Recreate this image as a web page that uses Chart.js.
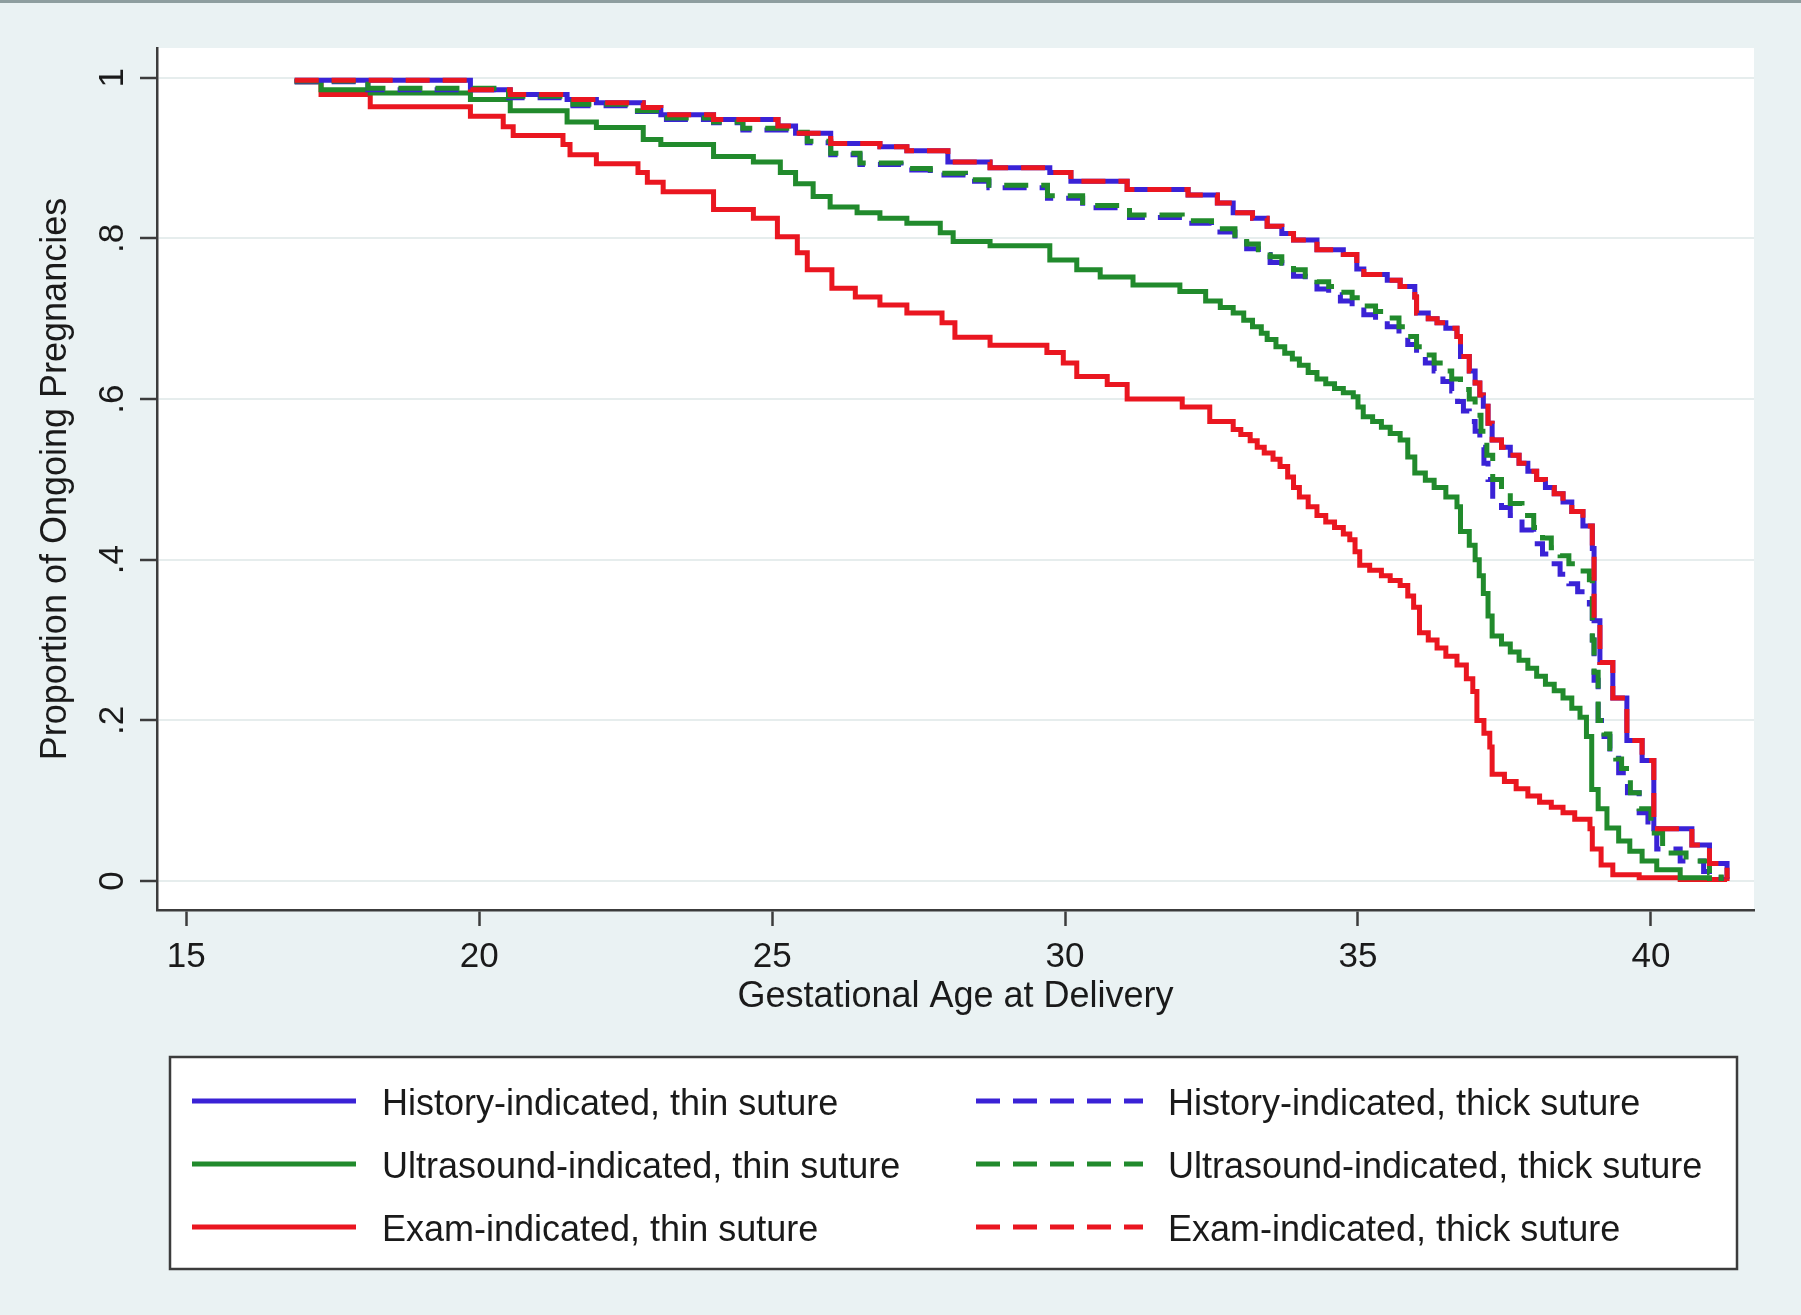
<!DOCTYPE html>
<html>
<head>
<meta charset="utf-8">
<script src="https://cdn.jsdelivr.net/npm/chart.js@4.4.1/dist/chart.umd.min.js"></script>
<style>
  html, body { margin: 0; padding: 0; background: #eaf2f3; }
  canvas { display: block; }
</style>
</head>
<body>
<canvas id="kmChart" width="1801" height="1315"></canvas>
<script>
// ticks
const xTicks = [15, 20, 25, 30, 35, 40];
const yTicks = [0, 0.2, 0.4, 0.6, 0.8, 1];
const yTickLabels = ['0', '.2', '.4', '.6', '.8', '1'];

// series: [gestational age, proportion ongoing]
const histThin = [[16.85,0.997],[19.85,0.985],[20.53,0.979],[21.5,0.973],[22.0,0.969],[22.8,0.963],[23.1,0.954],[24.0,0.948],[25.1,0.94],[25.4,0.931],[26.0,0.918],[26.84,0.914],[27.3,0.909],[28.0,0.895],[28.72,0.888],[29.74,0.882],[30.1,0.871],[31.06,0.861],[32.1,0.854],[32.6,0.844],[32.87,0.832],[33.2,0.825],[33.45,0.815],[33.7,0.806],[33.9,0.798],[34.3,0.786],[34.75,0.78],[34.98,0.762],[35.1,0.755],[35.5,0.748],[35.72,0.74],[35.97,0.727],[36.0,0.707],[36.2,0.7],[36.35,0.695],[36.5,0.688],[36.69,0.678],[36.75,0.653],[36.9,0.635],[37.0,0.62],[37.08,0.605],[37.14,0.591],[37.22,0.57],[37.29,0.549],[37.45,0.54],[37.6,0.53],[37.75,0.52],[37.9,0.51],[38.05,0.5],[38.2,0.49],[38.35,0.482],[38.5,0.472],[38.65,0.46],[38.84,0.442],[39.0,0.414],[39.03,0.324],[39.13,0.272],[39.35,0.228],[39.59,0.175],[39.85,0.15],[40.05,0.065],[40.7,0.045],[41.0,0.022],[41.3,0.003]];
const usThin = [[16.85,0.995],[17.3,0.985],[18.14,0.981],[19.85,0.973],[20.53,0.959],[21.5,0.945],[22.0,0.938],[22.8,0.923],[23.1,0.917],[24.0,0.902],[24.68,0.895],[25.14,0.882],[25.4,0.868],[25.7,0.852],[25.99,0.839],[26.45,0.832],[26.84,0.825],[27.3,0.819],[27.87,0.807],[28.09,0.796],[28.72,0.791],[29.74,0.773],[30.2,0.761],[30.6,0.752],[31.16,0.742],[31.96,0.734],[32.4,0.722],[32.65,0.714],[32.87,0.707],[33.05,0.698],[33.2,0.69],[33.35,0.682],[33.45,0.674],[33.6,0.665],[33.75,0.657],[33.88,0.65],[34.0,0.642],[34.15,0.633],[34.3,0.625],[34.45,0.619],[34.6,0.613],[34.75,0.608],[34.92,0.603],[35.0,0.59],[35.09,0.578],[35.25,0.572],[35.4,0.565],[35.55,0.557],[35.72,0.549],[35.85,0.528],[35.97,0.508],[36.15,0.499],[36.3,0.49],[36.5,0.478],[36.69,0.466],[36.75,0.435],[36.9,0.418],[37.0,0.4],[37.07,0.38],[37.14,0.358],[37.22,0.33],[37.29,0.305],[37.45,0.295],[37.6,0.285],[37.75,0.275],[37.9,0.265],[38.05,0.255],[38.2,0.245],[38.35,0.237],[38.5,0.228],[38.65,0.215],[38.79,0.204],[38.9,0.18],[38.99,0.114],[39.1,0.09],[39.25,0.066],[39.45,0.05],[39.64,0.037],[39.85,0.025],[40.1,0.014],[40.5,0.004],[41.0,0.0]];
const examThin = [[16.85,0.995],[17.3,0.979],[18.14,0.964],[19.85,0.952],[20.41,0.939],[20.58,0.928],[21.43,0.917],[21.55,0.904],[22.0,0.893],[22.71,0.882],[22.87,0.87],[23.14,0.858],[24.0,0.836],[24.68,0.825],[25.09,0.802],[25.43,0.782],[25.6,0.761],[26.02,0.738],[26.42,0.727],[26.84,0.717],[27.3,0.707],[27.9,0.695],[28.12,0.677],[28.72,0.667],[29.69,0.658],[29.97,0.645],[30.2,0.628],[30.72,0.618],[31.06,0.6],[32.0,0.59],[32.47,0.572],[32.87,0.562],[33.0,0.556],[33.16,0.548],[33.28,0.54],[33.4,0.533],[33.55,0.525],[33.67,0.516],[33.8,0.503],[33.9,0.49],[34.0,0.478],[34.15,0.466],[34.3,0.455],[34.45,0.447],[34.6,0.44],[34.75,0.432],[34.86,0.425],[34.95,0.41],[35.03,0.393],[35.2,0.387],[35.4,0.38],[35.55,0.374],[35.72,0.368],[35.85,0.355],[35.95,0.341],[36.05,0.309],[36.2,0.3],[36.35,0.29],[36.5,0.28],[36.69,0.269],[36.85,0.252],[36.96,0.236],[37.03,0.2],[37.15,0.184],[37.25,0.167],[37.29,0.133],[37.5,0.124],[37.7,0.115],[37.9,0.106],[38.1,0.098],[38.3,0.092],[38.5,0.085],[38.7,0.077],[38.96,0.065],[39.0,0.04],[39.15,0.02],[39.35,0.008],[39.8,0.004],[40.5,0.002],[41.3,0.0]];
const histThick = [[16.85,0.995],[18.1,0.985],[20.5,0.975],[21.6,0.965],[22.6,0.958],[23.1,0.948],[24.0,0.944],[24.5,0.935],[25.3,0.931],[25.6,0.919],[26.0,0.904],[26.5,0.892],[27.2,0.885],[27.7,0.879],[28.3,0.871],[28.7,0.863],[29.7,0.85],[30.3,0.838],[31.1,0.826],[32.0,0.819],[32.5,0.808],[32.9,0.795],[33.1,0.787],[33.3,0.78],[33.5,0.77],[33.7,0.762],[33.9,0.753],[34.1,0.745],[34.3,0.737],[34.5,0.73],[34.7,0.722],[34.9,0.715],[35.1,0.705],[35.3,0.698],[35.5,0.69],[35.7,0.68],[35.85,0.668],[36.0,0.655],[36.15,0.645],[36.3,0.635],[36.45,0.622],[36.6,0.61],[36.7,0.597],[36.8,0.585],[36.9,0.572],[37.0,0.56],[37.08,0.54],[37.15,0.52],[37.22,0.5],[37.3,0.475],[37.45,0.465],[37.6,0.455],[37.8,0.437],[38.0,0.42],[38.15,0.407],[38.3,0.395],[38.45,0.382],[38.6,0.37],[38.75,0.36],[38.95,0.345],[39.0,0.3],[39.03,0.25],[39.1,0.2],[39.2,0.18],[39.3,0.16],[39.45,0.135],[39.6,0.11],[39.8,0.085],[39.95,0.065],[40.1,0.04],[40.5,0.025],[40.9,0.012],[41.2,0.0]];
const usThick = [[16.85,0.996],[18.1,0.987],[20.5,0.977],[21.6,0.967],[22.6,0.959],[23.1,0.95],[24.0,0.945],[24.5,0.937],[25.3,0.932],[25.6,0.921],[26.0,0.906],[26.5,0.894],[27.2,0.887],[27.7,0.881],[28.3,0.873],[28.7,0.866],[29.7,0.853],[30.3,0.841],[31.1,0.829],[32.0,0.822],[32.5,0.812],[32.9,0.8],[33.1,0.793],[33.3,0.786],[33.5,0.777],[33.7,0.769],[33.9,0.761],[34.1,0.753],[34.3,0.746],[34.5,0.74],[34.7,0.733],[34.9,0.726],[35.1,0.716],[35.3,0.709],[35.5,0.701],[35.7,0.69],[35.85,0.678],[36.0,0.665],[36.15,0.655],[36.3,0.645],[36.45,0.635],[36.6,0.625],[36.75,0.612],[36.9,0.6],[37.0,0.58],[37.1,0.56],[37.2,0.53],[37.3,0.5],[37.45,0.485],[37.6,0.47],[37.8,0.455],[38.0,0.44],[38.15,0.427],[38.3,0.415],[38.45,0.405],[38.6,0.395],[38.75,0.386],[38.95,0.375],[39.0,0.3],[39.03,0.26],[39.1,0.2],[39.2,0.183],[39.3,0.165],[39.4,0.152],[39.5,0.14],[39.65,0.11],[39.8,0.09],[40.0,0.06],[40.2,0.035],[40.6,0.025],[41.0,0.01],[41.2,0.0]];
const examThick = [[16.85,0.997],[19.85,0.985],[20.53,0.979],[21.5,0.973],[22.0,0.969],[22.8,0.963],[23.1,0.954],[24.0,0.948],[25.1,0.94],[25.4,0.931],[26.0,0.918],[26.84,0.914],[27.3,0.909],[28.0,0.895],[28.72,0.888],[29.74,0.882],[30.1,0.871],[31.06,0.861],[32.1,0.854],[32.6,0.844],[32.87,0.832],[33.2,0.825],[33.45,0.815],[33.7,0.806],[33.9,0.798],[34.3,0.786],[34.75,0.78],[34.98,0.762],[35.1,0.755],[35.5,0.748],[35.72,0.74],[35.97,0.727],[36.0,0.707],[36.2,0.7],[36.35,0.695],[36.5,0.688],[36.69,0.678],[36.75,0.653],[36.9,0.635],[37.0,0.62],[37.08,0.605],[37.14,0.591],[37.22,0.57],[37.29,0.549],[37.45,0.54],[37.6,0.53],[37.75,0.52],[37.9,0.51],[38.05,0.5],[38.2,0.49],[38.35,0.482],[38.5,0.472],[38.65,0.46],[38.84,0.442],[39.0,0.414],[39.03,0.324],[39.13,0.272],[39.35,0.228],[39.59,0.175],[39.85,0.15],[40.05,0.065],[40.7,0.045],[41.0,0.022],[41.3,0.003]];

const seriesLabels = [
    'History-indicated, thin suture',
    'Ultrasound-indicated, thin suture',
    'Exam-indicated, thin suture',
    'History-indicated, thick suture',
    'Ultrasound-indicated, thick suture',
    'Exam-indicated, thick suture'
];

const BLUE = '#3a22d6';
const GREEN = '#218a2c';
const RED = '#ea1620';
const FONT = '"Liberation Sans", Arial, Helvetica, sans-serif';
const DASH = [24, 13];

function toPoints(arr) {
    return arr.map(p => ({ x: p[0], y: p[1] }));
}

function makeSet(label, arr, color, dashed, order) {
    return {
        label: label,
        data: toPoints(arr),
        borderColor: color,
        backgroundColor: color,
        borderWidth: 5,
        borderDash: dashed ? DASH : [],
        stepped: true,
        pointRadius: 0,
        fill: false,
        order: order
    };
}

// white plot region + top frame line
const backdrop = {
    id: 'backdrop',
    beforeDraw(chart) {
        const { ctx, chartArea: a } = chart;
        ctx.save();
        ctx.fillStyle = '#eaf2f3';
        ctx.fillRect(0, 0, chart.width, chart.height);
        ctx.fillStyle = '#ffffff';
        ctx.fillRect(a.left, a.top, a.right - a.left, a.bottom - a.top);
        ctx.fillStyle = '#8e9e9f';
        ctx.fillRect(0, 0, chart.width, 3);
        ctx.restore();
    }
};

// two-column legend box like the Stata one
const boxLegend = {
    id: 'boxLegend',
    afterDraw(chart) {
        const ctx = chart.ctx;
        const box = { x: 170, y: 1057, w: 1567, h: 212 };
        const cols = [
            { x0: 192, x1: 356, tx: 382 },
            { x0: 976, x1: 1143, tx: 1168 }
        ];
        const rows = [1103, 1166, 1229];
        ctx.save();
        ctx.fillStyle = '#ffffff';
        ctx.fillRect(box.x, box.y, box.w, box.h);
        ctx.strokeStyle = '#3c3c3c';
        ctx.lineWidth = 2.5;
        ctx.strokeRect(box.x, box.y, box.w, box.h);
        ctx.font = '36px ' + FONT;
        ctx.textBaseline = 'middle';
        ctx.textAlign = 'left';
        chart.data.datasets.forEach((ds, i) => {
            const c = cols[Math.floor(i / 3)];
            const y = rows[i % 3];
            ctx.beginPath();
            ctx.setLineDash(ds.borderDash);
            ctx.strokeStyle = ds.borderColor;
            ctx.lineWidth = 5;
            ctx.moveTo(c.x0, y - 2);
            ctx.lineTo(c.x1, y - 2);
            ctx.stroke();
            ctx.setLineDash([]);
            ctx.fillStyle = '#1a1a1a';
            ctx.fillText(ds.label, c.tx, y + 2);
        });
        ctx.restore();
    }
};

const ctx = document.getElementById('kmChart').getContext('2d');
new Chart(ctx, {
    type: 'line',
    data: {
        datasets: [
            makeSet(seriesLabels[0], histThin, BLUE, false, 4),
            makeSet(seriesLabels[1], usThin, GREEN, false, 5),
            makeSet(seriesLabels[2], examThin, RED, false, 6),
            makeSet(seriesLabels[3], histThick, BLUE, true, 2),
            makeSet(seriesLabels[4], usThick, GREEN, true, 1),
            makeSet(seriesLabels[5], examThick, RED, true, 0)
        ]
    },
    options: {
        responsive: false,
        animation: false,
        devicePixelRatio: 1,
        layout: { padding: { left: 0, top: 48, right: 47, bottom: 281 } },
        plugins: {
            legend: { display: false },
            tooltip: { enabled: false }
        },
        scales: {
            x: {
                type: 'linear',
                min: 14.5,
                max: 41.76,
                afterBuildTicks: s => { s.ticks = xTicks.map(v => ({ value: v })); },
                afterFit: s => { s.height = 124; },
                border: { display: true, color: '#3c3c3c', width: 2.5 },
                grid: { drawOnChartArea: false, tickLength: 16, tickColor: '#3c3c3c', tickWidth: 2.5 },
                ticks: {
                    color: '#1a1a1a',
                    font: { family: FONT, size: 35 },
                    padding: 10,
                    maxRotation: 0,
                    callback: v => String(v)
                },
                title: {
                    display: true,
                    text: 'Gestational Age at Delivery',
                    color: '#1a1a1a',
                    font: { family: FONT, size: 36 },
                    padding: { top: 0, bottom: 15 }
                }
            },
            y: {
                type: 'linear',
                min: -0.036,
                max: 1.037,
                afterBuildTicks: s => { s.ticks = yTicks.map(v => ({ value: v })); },
                afterFit: s => { s.width = 157; },
                border: { display: true, color: '#3c3c3c', width: 2.5 },
                grid: { color: '#e6eded', lineWidth: 2, tickLength: 17, tickColor: '#3c3c3c', tickWidth: 2.5 },
                ticks: {
                    color: '#1a1a1a',
                    font: { family: FONT, size: 35 },
                    padding: 12,
                    minRotation: 90,
                    maxRotation: 90,
                    crossAlign: 'center',
                    callback: v => yTickLabels[yTicks.indexOf(v)]
                },
                title: {
                    display: true,
                    text: 'Proportion of Ongoing Pregnancies',
                    color: '#1a1a1a',
                    font: { family: FONT, size: 36 },
                    padding: { top: 34, bottom: 0 }
                }
            }
        }
    },
    plugins: [backdrop, boxLegend]
});
</script>
</body>
</html>
